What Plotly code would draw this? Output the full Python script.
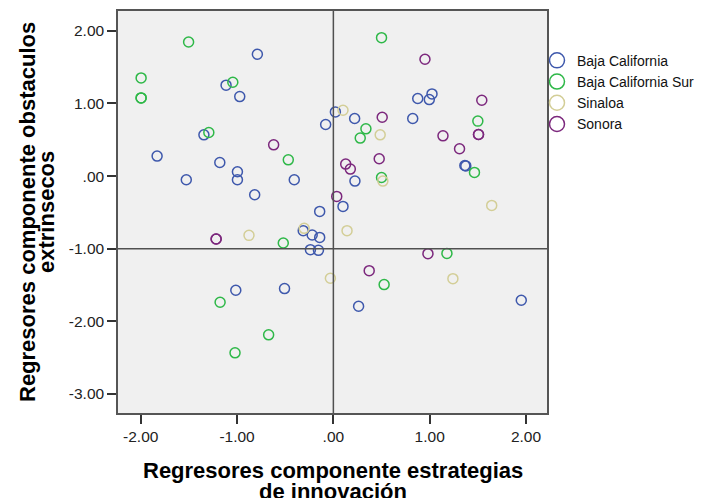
import plotly.graph_objects as go

# ---- data ----
groups = ["Baja California", "Baja California Sur", "Sinaloa", "Sonora"]
colors = ["#3E58AC", "#2EB848", "#D3CE97", "#7C287D"]

bc_x = [-0.789, -1.114, -0.972, 0.021, -0.080, -1.344, -1.830, -1.179, -0.996, -0.996,
        -1.527, -0.406, -0.817, -0.142, 0.876, 0.996, 1.024, 0.221, 0.824, 1.365,
        1.375, 0.224, 0.100, -0.313, -0.220, -0.142, -0.238, -0.155, -1.013, -0.507,
        0.262, 1.951]
bc_y = [1.678, 1.252, 1.095, 0.884, 0.710, 0.568, 0.275, 0.187, 0.059, -0.051,
        -0.051, -0.051, -0.257, -0.487, 1.068, 1.054, 1.132, 0.793, 0.793, 0.146,
        0.140, -0.069, -0.418, -0.752, -0.812, -0.845, -1.014, -1.023, -1.573, -1.550,
        -1.794, -1.711]

bcs_x = [-1.503, -1.996, -1.996, -1.996, -1.044, -1.293, -0.468, 0.500, 1.500, 0.338,
         0.279, 1.465, 0.500, 1.179, 0.527, -0.520, -1.176, -0.672, -1.021]
bcs_y = [1.847, 1.352, 1.077, 1.077, 1.293, 0.600, 0.224, 1.907, 0.757, 0.651,
         0.523, 0.050, -0.019, -1.065, -1.495, -0.922, -1.739, -2.187, -2.435]

sin_x = [0.100, 0.486, 0.514, 1.644, 0.142, -0.031, 1.241, -0.876, -0.303]
sin_y = [0.907, 0.568, -0.069, -0.404, -0.752, -1.408, -1.413, -0.817, -0.720]

son_x = [-0.620, 0.035, 0.951, 1.541, 0.507, 1.138, 1.507, 1.507, 1.310, 0.128,
         0.176, 0.476, 0.982, 0.372, -1.217, -1.217]
son_y = [0.430, -0.280, 1.609, 1.045, 0.811, 0.554, 0.572, 0.572, 0.376, 0.165,
         0.096, 0.238, -1.069, -1.303, -0.867, -0.867]

tick_vals_x = [-2, -1, 0, 1, 2]
tick_text_x = ["-2.00", "-1.00", ".00", "1.00", "2.00"]
tick_vals_y = [2, 1, 0, -1, -2, -3]
tick_text_y = ["2.00", "1.00", ".00", "-1.00", "-2.00", "-3.00"]

x_title = ["Regresores componente estrategias", "de innovación"]
y_title = ["Regresores componente obstaculos", "extrinsecos"]

series = [(bc_x, bc_y), (bcs_x, bcs_y), (sin_x, sin_y), (son_x, son_y)]

fig = go.Figure()
for (xs, ys), name, col in zip(series, groups, colors):
    fig.add_trace(go.Scatter(
        x=xs, y=ys, mode="markers", name=name, showlegend=False,
        marker=dict(symbol="circle-open", size=10, color=col, line=dict(width=1.5, color=col)),
        hoverinfo="x+y+name"))
# legend entries (bigger symbols like the reference)
for name, col in zip(groups, colors):
    fig.add_trace(go.Scatter(
        x=[None], y=[None], mode="markers", name=name, showlegend=True,
        marker=dict(symbol="circle-open", size=15, color=col, line=dict(width=1.5, color=col))))

# reference lines at x=0 and y=-1
fig.add_shape(type="line", xref="x", yref="paper", x0=0, x1=0, y0=0, y1=1,
              line=dict(color="#505050", width=1.5))
fig.add_shape(type="line", xref="paper", yref="y", x0=0, x1=1, y0=-1, y1=-1,
              line=dict(color="#505050", width=1.5))

L, R, T, B = 118, 154, 11, 85
W, H = 701, 498
axis_common = dict(showgrid=False, zeroline=False, showline=True, linecolor="#555555",
                   linewidth=1.5, mirror=True, ticks="outside", ticklen=9, tickwidth=1.5,
                   tickcolor="#333333", tickfont=dict(family="Liberation Sans, Arial", size=15.5, color="#222222"))
fig.update_layout(
    width=W, height=H,
    margin=dict(l=L, r=R, t=T, b=B, autoexpand=False),
    paper_bgcolor="white", plot_bgcolor="#F0F0F0",
    xaxis=dict(range=[-2.236, 2.218], tickvals=tick_vals_x, ticktext=tick_text_x, **axis_common),
    yaxis=dict(range=[-3.264, 2.274], tickvals=tick_vals_y, ticktext=tick_text_y, **axis_common),
    legend=dict(x=(537 - L) / (W - L - R), xanchor="left", y=0.916, yanchor="top",
                font=dict(family="Liberation Sans, Arial", size=14, color="#111111"),
                bgcolor="rgba(0,0,0,0)", tracegroupgap=0, itemwidth=30),
    showlegend=True,
)

title_font = dict(family="Liberation Sans, Arial", size=22, color="black")
# x-axis title, two lines
fig.add_annotation(text="<b>%s</b>" % x_title[0], xref="paper", yref="paper", x=0.5, y=0,
                   xanchor="center", yanchor="middle", yshift=-(470 - (H - B)), showarrow=False,
                   font=title_font)
fig.add_annotation(text="<b>%s</b>" % x_title[1], xref="paper", yref="paper", x=0.5, y=0,
                   xanchor="center", yanchor="middle", yshift=-(491 - (H - B)), showarrow=False,
                   font=title_font)
# y-axis title, two lines
fig.add_annotation(text="<b>%s</b>" % y_title[0], xref="paper", yref="paper", x=0, y=0.5,
                   xanchor="center", yanchor="middle", xshift=27 - L, textangle=-90,
                   showarrow=False, font=title_font)
fig.add_annotation(text="<b>%s</b>" % y_title[1], xref="paper", yref="paper", x=0, y=0.5,
                   xanchor="center", yanchor="middle", xshift=46 - L, textangle=-90,
                   showarrow=False, font=title_font)

fig.write_html("out.html", config={"displayModeBar": False})

# remove the browser's default page margin so the figure sits at the window's top-left
with open("out.html", "r", encoding="utf-8") as f:
    html = f.read()
html = html.replace("<head>", "<head><style>html,body{margin:0;padding:0;overflow:hidden;}</style>", 1)
with open("out.html", "w", encoding="utf-8") as f:
    f.write(html)
